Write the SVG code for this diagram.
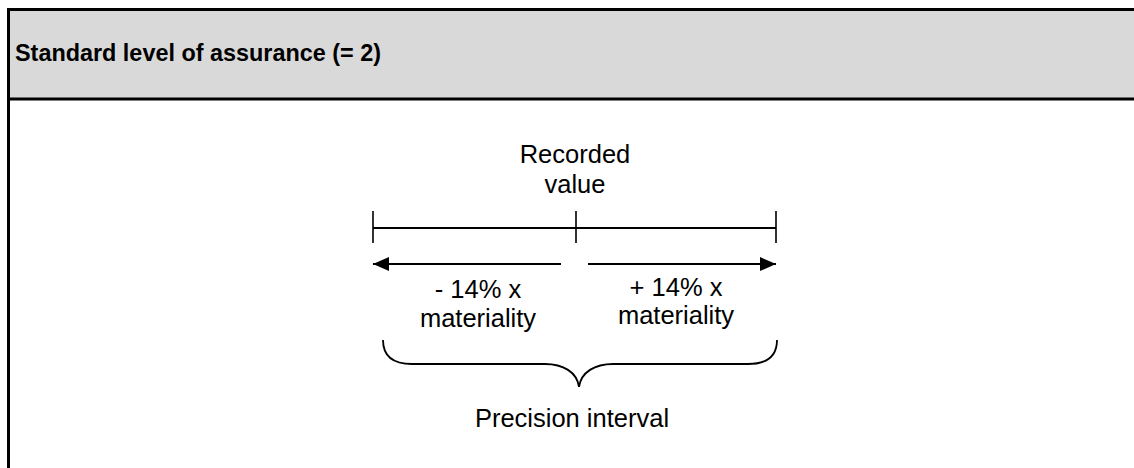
<svg xmlns="http://www.w3.org/2000/svg" width="1134" height="468" viewBox="0 0 1134 468">
  <style>
    .frame { fill: none; stroke: #000; stroke-width: 3; }
    .title { font-family: "Liberation Sans", Arial, sans-serif; font-weight: bold; font-size: 23.4px; fill: #000; }
    .label { font-family: "Liberation Sans", Arial, sans-serif; font-size: 25.5px; fill: #000; text-anchor: middle; }
    .scale { fill: none; stroke: #000; stroke-width: 2; }
    .tick { fill: none; stroke: #000; stroke-width: 1.6; }
    .arrow { fill: none; stroke: #000; stroke-width: 2; }
    .brace { fill: none; stroke: #000; stroke-width: 1.8; }
  </style>
  <defs>
    <marker id="head" viewBox="0 0 16 14" refX="16" refY="7" markerWidth="16" markerHeight="14" markerUnits="userSpaceOnUse" orient="auto">
      <path d="M0,0 L16,7 L0,14 Z" fill="#000"/>
    </marker>
  </defs>

  <rect width="1134" height="468" fill="#fff"/>

  <!-- panel header and frame -->
  <g id="panel">
    <rect x="8" y="9" width="1126" height="90" fill="#d9d9d9"/>
    <path class="frame" d="M8.5,468 V9.5 H1134"/>
    <path class="frame" d="M8,99 H1134"/>
    <text class="title" x="15" y="61">Standard level of assurance (= 2)</text>
  </g>

  <g id="recorded-value">
    <text class="label" x="575" y="163">Recorded</text>
    <text class="label" x="575" y="193">value</text>
  </g>

  <g id="minus-label">
    <text class="label" x="478" y="298">- 14% x</text>
    <text class="label" x="478" y="327">materiality</text>
  </g>

  <g id="plus-label">
    <text class="label" x="676" y="296">+ 14% x</text>
    <text class="label" x="676" y="324">materiality</text>
  </g>

  <g id="precision-interval">
    <text class="label" x="572" y="427">Precision interval</text>
  </g>

  <g id="connectors">
    <!-- scale with end and centre ticks -->
    <path class="scale" d="M373,228 H776"/>
    <path class="tick" d="M373,211 V243 M576,211 V243 M776,211 V243"/>
    <!-- deviation arrows -->
    <path class="arrow" d="M561,264 H373" marker-end="url(#head)"/>
    <path class="arrow" d="M588,264 H776" marker-end="url(#head)"/>
    <!-- brace spanning the interval -->
    <path class="brace" d="M383,340 C383,356 392,364 412,364 L545,364 C563,364 577,372 579,387 C581,372 595,364 613,364 L748,364 C768,364 777,356 777,340"/>
  </g>
</svg>
